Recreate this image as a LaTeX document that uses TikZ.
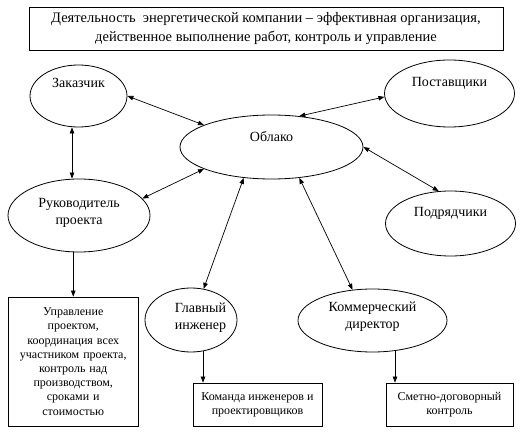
\documentclass[tikz,border=0pt]{standalone}
\usepackage{fontspec}
\setmainfont{Liberation Serif}
\usetikzlibrary{shapes.geometric,arrows.meta}
\begin{document}
\begin{tikzpicture}[x=1pt,y=-1pt,
  ell/.style={draw, ellipse, inner sep=0pt, line width=0.8pt},
  etext/.style={font=\fontsize{14}{17}\selectfont, align=center, inner sep=0pt},
  box/.style={draw, rectangle, inner sep=0pt, line width=0.8pt, align=center},
  btext/.style={font=\fontsize{12}{14.2}\selectfont},
  tip/.tip={Triangle[length=6pt,width=4.5pt]},
  arr/.style={-tip, line width=0.7pt},
  darr/.style={tip-tip, line width=0.7pt}]
\useasboundingbox (0,0) rectangle (532,438);

% title
\node[box, minimum width=474pt, minimum height=43pt,
      font=\fontsize{14.5}{19.5}\selectfont] (title) at (266,28.5)
  {Деятельность~ энергетической компании – эффективная организация,\\
   действенное выполнение работ, контроль и управление};

% ellipses
\node[ell, minimum width=97pt,  minimum height=62pt] (zak) at (78.5,96) {};
\node[ell, minimum width=130pt, minimum height=67pt] (pos) at (449.5,93.5) {};
\node[ell, minimum width=183pt, minimum height=64pt] (obl) at (271.5,147) {};
\node[ell, minimum width=142pt, minimum height=73pt] (ruk) at (79,215.5) {};
\node[ell, minimum width=130pt, minimum height=65pt] (pod) at (450.5,223.5) {};
\node[ell, minimum width=92pt,  minimum height=64pt] (gl)  at (191,320) {};
\node[ell, minimum width=149pt, minimum height=63pt] (kd)  at (372.5,320.5) {};

% ellipse texts
\node[etext] (zakT) at ([yshift=13.5pt]zak.center) {Заказчик};
\node[etext] (posT) at ([yshift=10.5pt]pos.center) {Поставщики};
\node[etext] (oblT) at ([yshift=10pt]obl.center) {Облако};
\node[etext] (rukT) at ([yshift=3pt]ruk.center) {Руководитель\\проекта};
\node[etext] (podT) at ([yshift=10.5pt]pod.center) {Подрядчики};
\node[etext] (glT)  at ([xshift=9.5pt,yshift=2pt]gl.center) {Главный\\инженер};
\node[etext] (kdT)  at ([yshift=4pt]kd.center) {Коммерческий\\директор};

% boxes
\node[box, btext, minimum width=129.5pt, minimum height=129pt, text width=125pt] (upr) at (73.25,361.5)
  {Управление\\проектом,\\координация всех\\участником проекта,\\контроль над\\производством,\\сроками и\\стоимостью};
\node[box, btext, minimum width=129pt, minimum height=43pt] (kom) at (257.5,404.5)
  {Команда инженеров и\\проектировщиков};
\node[box, btext, minimum width=127pt, minimum height=43pt] (smet) at (449.5,404.5)
  {Сметно-договорный\\контроль};

% connectors
\draw[darr] (zak.east) -- (obl.162);
\draw[darr] (pos.183) -- (obl.48);
\draw[darr] (obl.east) -- (pod.110);
\draw[darr] (obl.198) -- (ruk.15);
\draw[darr] (obl.228) -- (gl.68);
\draw[darr] (obl.312) -- (kd.123);
\draw[darr] ([xshift=-6.5pt]zak.south) -- ([xshift=-6.5pt]zak.south |- ruk.north);
\draw[arr] (ruk.south -| upr.north) -- (upr.north);
\draw[arr] ([xshift=12pt,yshift=1pt]gl.south) -- ([xshift=12pt]gl.south |- kom.north);
\draw[arr] ([xshift=22.5pt,yshift=1.5pt]kd.south) -- ([xshift=22.5pt]kd.south |- smet.north);
\end{tikzpicture}
\end{document}
